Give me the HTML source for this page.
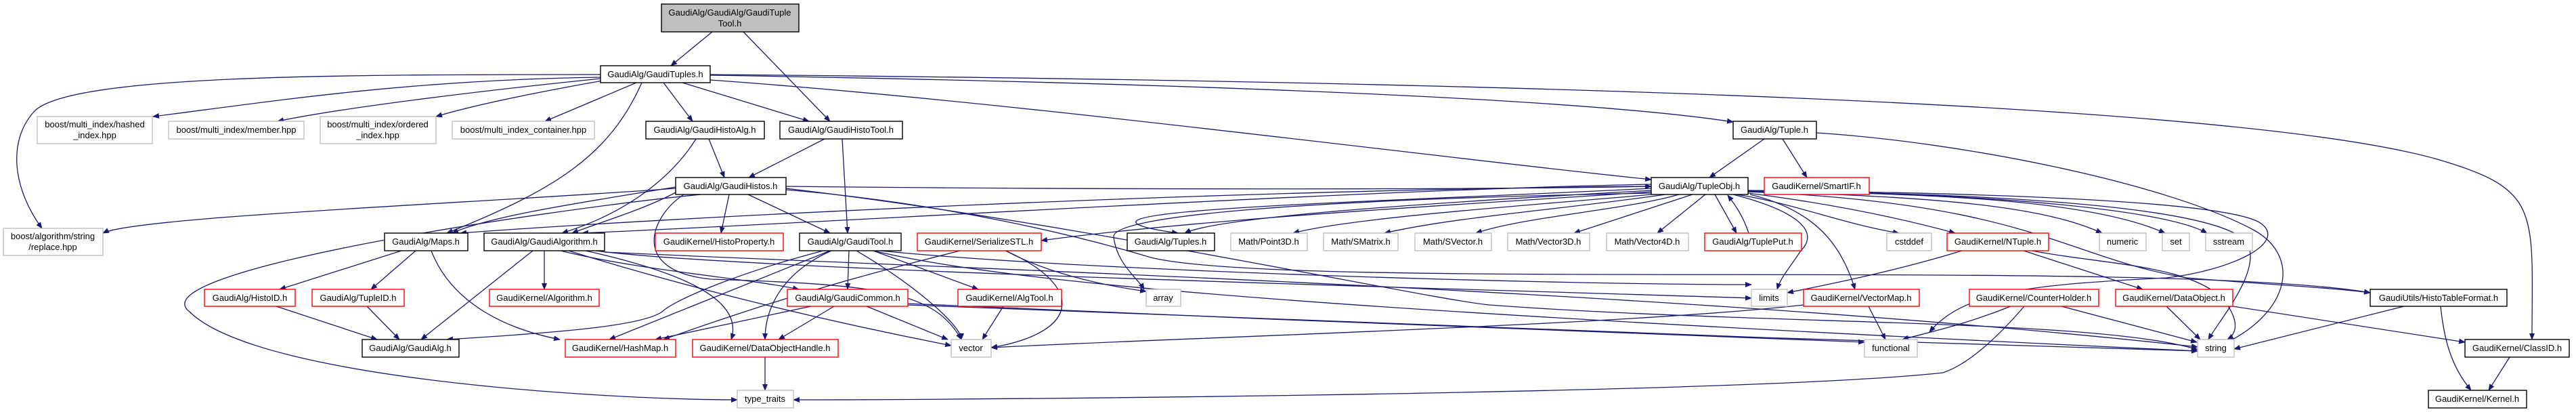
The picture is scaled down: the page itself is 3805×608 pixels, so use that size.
<!DOCTYPE html>
<html><head><meta charset="utf-8"><style>
html,body{margin:0;padding:0;background:#fff;}
svg{display:block;}
text{font-family:"Liberation Sans",Arial,sans-serif;font-size:13px;fill:#000;text-anchor:middle;}
.e{fill:none;stroke:#191970;stroke-width:1.3;marker-end:url(#a);}
.b{fill:#fff;stroke:#000;stroke-width:1.4;}
.g{fill:#fff;stroke:#bfbfbf;stroke-width:1.4;}
.r{fill:#fff;stroke:#ff0000;stroke-width:1.4;}
</style></head><body>
<svg width="3805" height="608" viewBox="0 0 3805 608" xmlns="http://www.w3.org/2000/svg">
<defs><marker id="a" markerWidth="10" markerHeight="8" refX="9" refY="4" orient="auto" markerUnits="userSpaceOnUse"><path d="M0,0 L10,4 L0,8 z" fill="#191970"/></marker></defs>
<!-- edges -->
<path class="e" d="M1052 47 L991 97"/>
<path class="e" d="M1098 47 L1226 179"/>
<path class="e" d="M887 114 C600 118 400 150 226 172"/>
<path class="e" d="M887 116 C700 135 500 160 410 179"/>
<path class="e" d="M890 119 C800 135 700 155 644 172"/>
<path class="e" d="M940 122 L805 179"/>
<path class="e" d="M887 110 C500 110 100 110 50 165 C10 210 20 280 62 337"/>
<path class="e" d="M948 122 C900 230 820 280 660 344"/>
<path class="e" d="M980 122 L1023 179"/>
<path class="e" d="M1008 122 L1195 179"/>
<path class="e" d="M1049 118 C1500 150 2100 230 2439 265"/>
<path class="e" d="M1049 111 C1600 120 2300 140 2560 180"/>
<path class="e" d="M1049 110 C2200 120 3300 150 3600 235 C3755 280 3740 310 3740 501"/>
<path class="e" d="M1028 205 C1000 250 940 310 830 344"/>
<path class="e" d="M1047 205 L1070 262"/>
<path class="e" d="M1218 205 L1106 262"/>
<path class="e" d="M1244 205 L1252 344"/>
<path class="e" d="M998 278 C700 300 200 320 152 344"/>
<path class="e" d="M998 276 C850 300 720 320 668 344"/>
<path class="e" d="M1000 283 C950 310 880 330 845 344"/>
<path class="e" d="M1077 287 L1065 344"/>
<path class="e" d="M1105 287 L1226 344"/>
<path class="e" d="M1161 275 C1600 280 2200 280 2439 275"/>
<path class="e" d="M1010 287 C960 320 930 400 1050 412 C1300 420 1380 430 1420 501"/>
<path class="e" d="M1035 287 C800 310 200 400 280 460 C380 560 900 590 1089 590"/>
<path class="e" d="M1161 280 C1400 300 1600 350 1700 380 C1900 430 3200 380 3501 432"/>
<path class="e" d="M1161 278 C1600 330 2100 440 2200 450 C2600 480 3100 470 3246 516"/>
<path class="e" d="M2606 205 L2525 262"/>
<path class="e" d="M2633 205 L2669 262"/>
<path class="e" d="M2683 196 C2900 210 3200 270 3330 340 C3400 380 3380 460 3290 505"/>
<path class="e" d="M2439 275 C1800 280 1000 320 680 344"/>
<path class="e" d="M2439 272 C2000 280 1200 330 860 344"/>
<path class="e" d="M2439 278 C2000 300 1500 310 1740 344"/>
<path class="e" d="M2439 281 C2100 300 1800 320 1750 344"/>
<path class="e" d="M2439 283 C2200 300 1800 320 1538 355"/>
<path class="e" d="M2439 287 C2300 300 2000 320 1910 344"/>
<path class="e" d="M2460 287 C2300 310 2150 320 2045 344"/>
<path class="e" d="M2480 287 C2400 310 2250 320 2180 344"/>
<path class="e" d="M2500 287 L2325 344"/>
<path class="e" d="M2519 287 L2448 344"/>
<path class="e" d="M2533 287 L2565 344"/>
<path class="e" d="M2583 344 C2575 320 2565 305 2552 288"/>
<path class="e" d="M2565 287 C2650 300 2720 330 2805 344"/>
<path class="e" d="M2582 285 C2700 300 2800 320 2888 344"/>
<path class="e" d="M2582 283 C2900 290 3030 310 3105 344"/>
<path class="e" d="M2582 282 C2900 285 3100 300 3198 344"/>
<path class="e" d="M2582 281 C2950 285 3200 310 3260 344"/>
<path class="e" d="M2582 281 C3000 285 3300 300 3340 330 C3380 360 3290 400 3200 410 C3000 420 2900 430 2850 490"/>
<path class="e" d="M2582 282 C3000 285 3290 310 3320 360 C3340 400 3280 470 3262 501"/>
<path class="e" d="M2582 283 C3000 300 3050 380 3230 410 C3350 420 3450 425 3501 432"/>
<path class="e" d="M2560 287 C2650 310 2690 340 2660 370 C2640 400 2630 410 2625 427"/>
<path class="e" d="M2585 287 C2680 310 2720 360 2740 427"/>
<path class="e" d="M2439 285 C1900 295 1640 320 1645 350 C1650 390 1680 410 1690 427"/>
<path class="e" d="M593 370 L413 427"/>
<path class="e" d="M614 370 L548 427"/>
<path class="e" d="M637 370 C660 430 720 480 827 501"/>
<path class="e" d="M787 370 L622 501"/>
<path class="e" d="M804 370 L804 427"/>
<path class="e" d="M828 370 C950 400 1100 410 1180 427"/>
<path class="e" d="M840 370 C1000 420 1200 470 1405 510"/>
<path class="e" d="M865 370 C1000 400 1100 440 1080 501"/>
<path class="e" d="M880 370 C1100 400 2300 430 2587 440"/>
<path class="e" d="M893 372 C1500 400 2500 430 3246 512"/>
<path class="e" d="M408 452 L557 501"/>
<path class="e" d="M542 452 L590 501"/>
<path class="e" d="M1216 370 C1100 400 1000 440 978 460 C950 480 840 490 660 501"/>
<path class="e" d="M1226 370 C1100 420 1000 460 900 501"/>
<path class="e" d="M1254 370 L1252 427"/>
<path class="e" d="M1228 370 C1160 400 1130 450 1130 501"/>
<path class="e" d="M1290 370 L1445 427"/>
<path class="e" d="M1265 370 C1350 420 1420 480 1420 501"/>
<path class="e" d="M1300 370 C1600 400 2300 420 2587 420"/>
<path class="e" d="M1290 370 C1500 420 2000 460 3246 518"/>
<path class="e" d="M1418 370 C1300 400 1180 430 980 501"/>
<path class="e" d="M1486 370 C1540 400 1620 420 1693 430"/>
<path class="e" d="M1485 370 C1600 420 1600 490 1464 513"/>
<path class="e" d="M1198 452 L968 501"/>
<path class="e" d="M1232 452 L1150 501"/>
<path class="e" d="M1280 452 L1400 501"/>
<path class="e" d="M1341 448 C1800 470 2400 490 2754 505"/>
<path class="e" d="M1341 450 C1800 470 2600 500 3246 518"/>
<path class="e" d="M1482 452 L1451 501"/>
<path class="e" d="M1130 527 L1130 576"/>
<path class="e" d="M2664 450 C2400 480 1700 500 1464 513"/>
<path class="e" d="M2760 452 L2785 501"/>
<path class="e" d="M2970 452 C2900 480 2850 490 2810 501"/>
<path class="e" d="M2990 452 C2940 510 2900 540 2870 550 C2600 580 1500 590 1172 590"/>
<path class="e" d="M3045 452 L3245 505"/>
<path class="e" d="M3200 452 L3250 501"/>
<path class="e" d="M3298 452 L3641 505"/>
<path class="e" d="M2898 370 C2800 400 2700 420 2640 432"/>
<path class="e" d="M2989 370 L3165 427"/>
<path class="e" d="M3002 370 C3100 390 3250 390 3290 450 C3310 480 3300 495 3290 501"/>
<path class="e" d="M3551 452 L3300 515"/>
<path class="e" d="M3605 452 C3610 500 3620 540 3650 576"/>
<path class="e" d="M3707 527 L3676 576"/>
<!-- nodes -->
<rect x="977" y="6" width="203" height="41" fill="#bfbfbf" stroke="#000" stroke-width="1.4"/>
<text x="1078" y="23">GaudiAlg/GaudiAlg/GaudiTuple</text><text x="1078" y="39">Tool.h</text>
<rect class="b" x="887" y="97" width="162" height="25"/><text x="968" y="114">GaudiAlg/GaudiTuples.h</text>
<rect class="g" x="55" y="172" width="170" height="40"/><text x="140" y="188">boost/multi_index/hashed</text><text x="140" y="204">_index.hpp</text>
<rect class="g" x="249" y="179" width="200" height="26"/><text x="349" y="196">boost/multi_index/member.hpp</text>
<rect class="g" x="473" y="172" width="171" height="40"/><text x="558" y="188">boost/multi_index/ordered</text><text x="558" y="204">_index.hpp</text>
<rect class="g" x="668" y="179" width="210" height="26"/><text x="773" y="196">boost/multi_index_container.hpp</text>
<rect class="b" x="954" y="179" width="175" height="26"/><text x="1041" y="196">GaudiAlg/GaudiHistoAlg.h</text>
<rect class="b" x="1152" y="179" width="181" height="26"/><text x="1242" y="196">GaudiAlg/GaudiHistoTool.h</text>
<rect class="b" x="2560" y="179" width="123" height="26"/><text x="2621" y="196">GaudiAlg/Tuple.h</text>
<rect class="b" x="998" y="262" width="163" height="25"/><text x="1079" y="279">GaudiAlg/GaudiHistos.h</text>
<rect class="b" x="2439" y="262" width="143" height="25"/><text x="2510" y="279">GaudiAlg/TupleObj.h</text>
<rect class="r" x="2606" y="262" width="155" height="25"/><text x="2683" y="279">GaudiKernel/SmartIF.h</text>
<rect class="g" x="5" y="337" width="147" height="40"/><text x="78" y="353">boost/algorithm/string</text><text x="78" y="369">/replace.hpp</text>
<rect class="b" x="568" y="344" width="123" height="26"/><text x="629" y="361">GaudiAlg/Maps.h</text>
<rect class="b" x="715" y="344" width="178" height="26"/><text x="804" y="361">GaudiAlg/GaudiAlgorithm.h</text>
<rect class="r" x="968" y="344" width="189" height="26"/><text x="1062" y="361">GaudiKernel/HistoProperty.h</text>
<rect class="b" x="1181" y="344" width="150" height="26"/><text x="1256" y="361">GaudiAlg/GaudiTool.h</text>
<rect class="r" x="1355" y="344" width="183" height="26"/><text x="1446" y="361">GaudiKernel/SerializeSTL.h</text>
<rect class="b" x="1665" y="344" width="129" height="26"/><text x="1729" y="361">GaudiAlg/Tuples.h</text>
<rect class="g" x="1818" y="344" width="113" height="26"/><text x="1874" y="361">Math/Point3D.h</text>
<rect class="g" x="1955" y="344" width="110" height="26"/><text x="2010" y="361">Math/SMatrix.h</text>
<rect class="g" x="2090" y="344" width="113" height="26"/><text x="2146" y="361">Math/SVector.h</text>
<rect class="g" x="2227" y="344" width="121" height="26"/><text x="2287" y="361">Math/Vector3D.h</text>
<rect class="g" x="2373" y="344" width="121" height="26"/><text x="2433" y="361">Math/Vector4D.h</text>
<rect class="r" x="2518" y="344" width="143" height="26"/><text x="2589" y="361">GaudiAlg/TuplePut.h</text>
<rect class="g" x="2787" y="344" width="66" height="26"/><text x="2820" y="361">cstddef</text>
<rect class="r" x="2876" y="344" width="150" height="26"/><text x="2951" y="361">GaudiKernel/NTuple.h</text>
<rect class="g" x="3101" y="344" width="69" height="26"/><text x="3135" y="361">numeric</text>
<rect class="g" x="3194" y="344" width="40" height="26"/><text x="3214" y="361">set</text>
<rect class="g" x="3258" y="344" width="69" height="26"/><text x="3292" y="361">sstream</text>
<rect class="r" x="302" y="427" width="134" height="25"/><text x="369" y="444">GaudiAlg/HistoID.h</text>
<rect class="r" x="461" y="427" width="136" height="25"/><text x="529" y="444">GaudiAlg/TupleID.h</text>
<rect class="r" x="723" y="427" width="162" height="25"/><text x="804" y="444">GaudiKernel/Algorithm.h</text>
<rect class="r" x="1163" y="427" width="178" height="25"/><text x="1252" y="444">GaudiAlg/GaudiCommon.h</text>
<rect class="r" x="1415" y="427" width="153" height="25"/><text x="1491" y="444">GaudiKernel/AlgTool.h</text>
<rect class="g" x="1693" y="427" width="51" height="25"/><text x="1718" y="444">array</text>
<rect class="g" x="2587" y="427" width="53" height="25"/><text x="2613" y="444">limits</text>
<rect class="r" x="2664" y="427" width="171" height="25"/><text x="2749" y="444">GaudiKernel/VectorMap.h</text>
<rect class="r" x="2909" y="427" width="191" height="25"/><text x="3004" y="444">GaudiKernel/CounterHolder.h</text>
<rect class="r" x="3125" y="427" width="173" height="25"/><text x="3211" y="444">GaudiKernel/DataObject.h</text>
<rect class="b" x="3501" y="427" width="202" height="25"/><text x="3602" y="444">GaudiUtils/HistoTableFormat.h</text>
<rect class="b" x="535" y="501" width="143" height="26"/><text x="606" y="518">GaudiAlg/GaudiAlg.h</text>
<rect class="r" x="835" y="501" width="163" height="26"/><text x="916" y="518">GaudiKernel/HashMap.h</text>
<rect class="r" x="1023" y="501" width="215" height="26"/><text x="1130" y="518">GaudiKernel/DataObjectHandle.h</text>
<rect class="g" x="1405" y="501" width="59" height="26"/><text x="1434" y="518">vector</text>
<rect class="g" x="2754" y="501" width="78" height="26"/><text x="2793" y="518">functional</text>
<rect class="g" x="3246" y="501" width="54" height="26"/><text x="3273" y="518">string</text>
<rect class="b" x="3641" y="501" width="154" height="26"/><text x="3718" y="518">GaudiKernel/ClassID.h</text>
<rect class="g" x="1089" y="576" width="83" height="26"/><text x="1130" y="593">type_traits</text>
<rect class="b" x="3587" y="576" width="145" height="26"/><text x="3659" y="593">GaudiKernel/Kernel.h</text>
</svg>
</body></html>
